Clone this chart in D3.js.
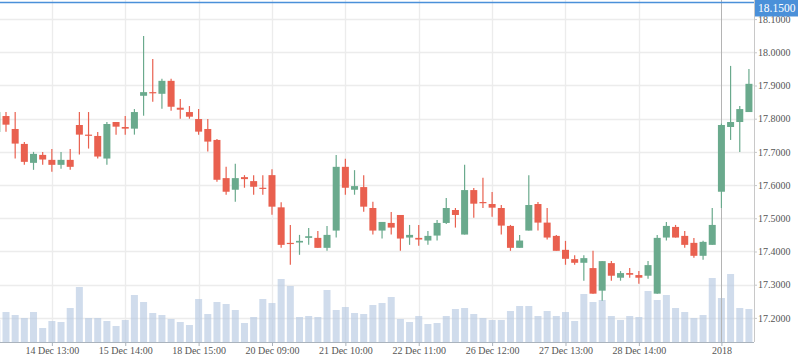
<!DOCTYPE html>
<html><head><meta charset="utf-8">
<script src="https://cdn.jsdelivr.net/npm/d3@7"></script>
<style>html,body{margin:0;padding:0;background:#fff;overflow:hidden}</style>
</head><body>
<svg id="chart" width="798" height="363"></svg>
<script>
// candle index (hourly bars); index -1 is the partly visible first bar
const candleIndex = d3.range(-1, 82);
const open  = [17.760,17.808,17.769,17.724,17.667,17.691,17.676,17.661,17.676,17.781,17.752,17.748,17.680,17.790,17.775,17.770,17.869,17.880,17.875,17.914,17.833,17.820,17.799,17.769,17.736,17.621,17.586,17.624,17.612,17.592,17.630,17.533,17.426,17.427,17.441,17.441,17.411,17.463,17.655,17.586,17.594,17.531,17.463,17.486,17.510,17.442,17.441,17.433,17.448,17.486,17.525,17.451,17.585,17.549,17.543,17.531,17.477,17.411,17.463,17.543,17.487,17.447,17.405,17.377,17.366,17.350,17.282,17.365,17.321,17.335,17.329,17.327,17.273,17.442,17.474,17.447,17.426,17.387,17.420,17.580,17.775,17.790,17.820];
const high  = [17.820,17.820,17.820,17.730,17.700,17.700,17.709,17.700,17.709,17.820,17.820,17.760,17.790,17.790,17.808,17.829,18.049,17.980,17.920,17.920,17.859,17.838,17.829,17.799,17.739,17.655,17.664,17.630,17.630,17.630,17.648,17.548,17.480,17.450,17.471,17.462,17.477,17.691,17.679,17.645,17.630,17.550,17.489,17.519,17.510,17.480,17.480,17.462,17.495,17.561,17.531,17.661,17.591,17.622,17.579,17.540,17.480,17.450,17.630,17.549,17.531,17.450,17.432,17.389,17.389,17.402,17.371,17.371,17.341,17.350,17.341,17.371,17.450,17.489,17.480,17.462,17.441,17.432,17.531,17.785,17.959,17.838,17.950];
const low   = [17.760,17.761,17.680,17.661,17.646,17.661,17.640,17.649,17.646,17.692,17.710,17.680,17.661,17.752,17.752,17.752,17.809,17.851,17.830,17.824,17.800,17.800,17.752,17.701,17.610,17.571,17.550,17.592,17.571,17.571,17.511,17.411,17.360,17.390,17.420,17.411,17.402,17.442,17.571,17.571,17.520,17.451,17.439,17.451,17.402,17.420,17.417,17.420,17.433,17.483,17.472,17.451,17.502,17.531,17.505,17.451,17.402,17.411,17.463,17.463,17.436,17.402,17.360,17.360,17.312,17.273,17.252,17.312,17.312,17.321,17.303,17.318,17.273,17.433,17.442,17.411,17.381,17.375,17.420,17.531,17.736,17.700,17.820];
const close = [17.820,17.782,17.725,17.670,17.694,17.677,17.661,17.676,17.655,17.752,17.750,17.686,17.784,17.776,17.770,17.820,17.880,17.878,17.914,17.836,17.827,17.806,17.761,17.731,17.616,17.580,17.621,17.618,17.595,17.590,17.535,17.420,17.423,17.432,17.446,17.411,17.450,17.655,17.592,17.597,17.535,17.463,17.489,17.472,17.439,17.450,17.436,17.447,17.486,17.531,17.510,17.585,17.544,17.547,17.532,17.478,17.411,17.433,17.540,17.487,17.442,17.402,17.378,17.366,17.380,17.273,17.371,17.327,17.335,17.330,17.321,17.359,17.441,17.477,17.442,17.420,17.387,17.429,17.480,17.781,17.790,17.829,17.905];
const volume = [22,30,27,24,30,14,21,20,34,55,24,24,21,16,22,47,40,29,27,23,20,17,43,28,40,38,32,19,25,43,39,63,56,25,26,25,52,32,35,29,28,37,39,45,23,20,26,18,19,26,33,34,28,24,22,22,31,36,36,26,31,26,30,21,48,40,42,26,22,26,25,51,42,47,34,30,24,27,64,44,68,34,33];
const tickIndex  = [5,13,21,29,37,45,53,61,69,78];
const tickLabels = ["14 Dec 13:00","15 Dec 14:00","18 Dec 15:00","20 Dec 09:00","21 Dec 10:00","22 Dec 11:00","26 Dec 12:00","27 Dec 13:00","28 Dec 14:00","2018"];
const priceTicks = [17.2,17.3,17.4,17.5,17.6,17.7,17.8,17.9,18.0,18.1];
const lastPrice = 18.15;
const crosshairIndex = 78;

const data = candleIndex.map((k,i)=>({k, o:open[i], h:high[i], l:low[i], c:close[i], v:volume[i]}));

const svg = d3.select("#chart");
const plotW = 754, plotH = 342;
const step = 9.172;
const x = d3.scaleLinear().domain([-1, 81]).range([6 - step, 6 + 81*step]);
const y = d3.scaleLinear().domain([17.1274, 18.1575]).range([plotH, 0]);
const yv = d3.scaleLinear().domain([0, 100]).range([plotH, plotH - 100]);
const bw = 7;
const up = "#6aaa8d", down = "#e9604f";

const grid = svg.append("g");
grid.selectAll("line.h").data(priceTicks).join("line")
  .attr("x1",0).attr("x2",plotW).attr("y1",d=>Math.round(y(d))+0.5).attr("y2",d=>Math.round(y(d))+0.5)
  .attr("stroke","#ececec").attr("stroke-width",1.3);
grid.selectAll("line.v").data(tickIndex.filter(t=>t!==crosshairIndex)).join("line")
  .attr("x1",d=>Math.round(x(d))+0.5).attr("x2",d=>Math.round(x(d))+0.5).attr("y1",0).attr("y2",plotH)
  .attr("stroke","#ececec").attr("stroke-width",1.3);

// volume
svg.append("g").selectAll("rect").data(data).join("rect")
  .attr("x",d=>x(d.k)-bw/2).attr("width",bw)
  .attr("y",d=>yv(d.v)).attr("height",d=>plotH - yv(d.v))
  .attr("fill","#b7c9e2").attr("fill-opacity",0.65);

// crosshair
svg.append("line").attr("x1",Math.round(x(crosshairIndex))+0.5).attr("x2",Math.round(x(crosshairIndex))+0.5)
  .attr("y1",0).attr("y2",plotH).attr("stroke","#b4b4b4").attr("stroke-width",1);

// candles
const cg = svg.append("g");
cg.selectAll("line").data(data).join("line")
  .attr("x1",d=>x(d.k)).attr("x2",d=>x(d.k)).attr("y1",d=>y(d.h)).attr("y2",d=>y(d.l))
  .attr("stroke",d=>d.c>=d.o?up:down).attr("stroke-width",1.2);
cg.selectAll("rect").data(data).join("rect")
  .attr("x",d=>x(d.k)-bw/2).attr("width",bw)
  .attr("y",d=>y(Math.max(d.o,d.c))).attr("height",d=>Math.max(1.2, Math.abs(y(d.o)-y(d.c))))
  .attr("fill",d=>d.c>=d.o?up:down);

// x axis
const xAxis = svg.append("g").attr("transform",`translate(0,${plotH})`)
  .call(d3.axisBottom(x).tickValues(tickIndex).tickFormat((d,i)=>tickLabels[i]).tickSize(4).tickSizeOuter(0));
xAxis.select(".domain").attr("stroke","#aab3bd").attr("d",`M0,0.5H${plotW}`);
xAxis.selectAll(".tick line").attr("stroke","#aab3bd");
xAxis.selectAll("text").attr("font-family","'Liberation Serif', serif").attr("font-size",10).attr("fill","#555").attr("dy","0.9em").attr("y",3);

// y axis
const yAxis = svg.append("g").attr("transform",`translate(${plotW},0)`)
  .call(d3.axisRight(y).tickValues(priceTicks).tickFormat(d3.format(".4f")).tickSize(3).tickSizeOuter(0));
yAxis.select(".domain").attr("stroke","#c8c8c8").attr("d",`M0.5,0V${plotH}`);
yAxis.selectAll(".tick line").attr("stroke","#c8c8c8");
yAxis.selectAll("text").attr("font-family","'Liberation Serif', serif").attr("font-size",10).attr("fill","#555").attr("x",4);

// last price line and label
svg.append("line").attr("x1",0).attr("x2",plotW).attr("y1",y(lastPrice)).attr("y2",y(lastPrice))
  .attr("stroke","#4a90d9").attr("stroke-width",1.3);
svg.append("rect").attr("x",plotW+1).attr("y",y(lastPrice)-3).attr("width",798-plotW-1).attr("height",17).attr("fill","#4a90d9");
svg.append("text").attr("x",plotW+4).attr("y",y(lastPrice)+10).text(d3.format(".4f")(lastPrice))
  .attr("font-family","'Liberation Serif', serif").attr("font-size",11.5).attr("fill","#fff");
</script>
</body></html>
